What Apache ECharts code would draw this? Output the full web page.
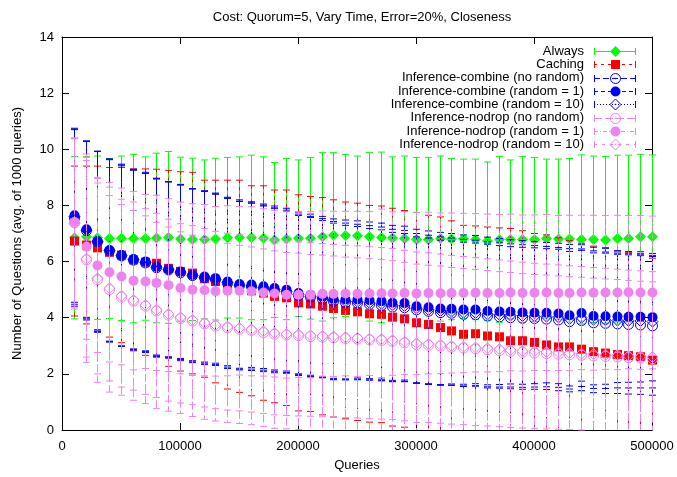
<!DOCTYPE html>
<html><head><meta charset="utf-8">
<script src="https://cdn.jsdelivr.net/npm/echarts@6.0.0/dist/echarts.min.js"></script>
<style>html,body{margin:0;padding:0;background:#fff}#c{width:677px;height:477px}</style>
</head><body><div id="c"></div>
<script>
const queries = [10000,20000,30000,40000,50000,60000,70000,80000,90000,100000,110000,120000,130000,140000,150000,160000,170000,180000,190000,200000,210000,220000,230000,240000,250000,260000,270000,280000,290000,300000,310000,320000,330000,340000,350000,360000,370000,380000,390000,400000,410000,420000,430000,440000,450000,460000,470000,480000,490000,500000];
const xTicks = [0,100000,200000,300000,400000,500000];
const yTicks = [0,2,4,6,8,10,12,14];

const seriesNames = ['Always','Caching','Inference-combine (no random)','Inference-combine (random = 1)','Inference-combine (random = 10)','Inference-nodrop (no random)','Inference-nodrop (random = 1)','Inference-nodrop (random = 10)'];

const alwaysMean = [6.85,6.88,6.85,6.82,6.83,6.82,6.82,6.84,6.86,6.80, 6.79,6.79,6.80,6.85,6.86,6.86,6.83,6.77,6.80,6.83, 6.83,6.88,6.94,6.93,6.92,6.88,6.86,6.84,6.82,6.79, 6.79,6.82,6.80,6.81,6.79,6.73,6.79,6.79,6.79,6.79, 6.82,6.80,6.80,6.79,6.79,6.77,6.82,6.82,6.88,6.88];
const alwaysErr = [2.89,2.86,2.91,2.85,2.93,3.00,2.91,3.02,3.06,2.92, 2.89,2.83,2.88,2.86,2.87,2.93,2.90,2.76,2.87,2.79, 2.88,3.00,2.94,2.89,2.84,3.00,3.04,2.89,2.94,2.92, 2.92,2.94,2.87,2.84,2.86,2.82,2.95,2.83,2.95,2.92, 2.83,2.85,2.87,3.01,2.97,2.97,2.97,2.97,2.94,2.92];

const cachingMean = [6.73,6.59,6.49,6.33,6.23,6.06,5.98,5.94,5.76,5.65, 5.59,5.39,5.29,5.18,5.12,4.96,4.88,4.76,4.71,4.53, 4.49,4.41,4.33,4.26,4.21,4.14,4.12,4.02,3.96,3.82, 3.76,3.65,3.53,3.41,3.43,3.35,3.32,3.18,3.18,3.12, 3.03,2.96,2.96,2.88,2.79,2.74,2.69,2.65,2.61,2.49];
const cachingErr = [2.67,2.81,2.91,3.02,3.12,3.24,3.32,3.35,3.49,3.55, 3.59,3.51,3.61,3.72,3.78,3.74,3.82,3.79,3.84,3.85, 3.83,3.87,3.87,3.86,3.87,3.86,3.86,3.88,3.86,3.93, 3.89,3.94,3.92,3.88,3.84,3.88,3.88,4.00,3.92,3.88, 3.92,3.89,3.79,3.77,3.76,3.76,3.66,3.67,3.68,3.63];

const combNoRandMean = [7.55,7.10,6.70,6.38,6.20,6.05,5.95,5.78,5.70,5.60, 5.50,5.42,5.35,5.22,5.14,5.10,5.03,4.97,4.90,4.79, 4.73,4.66,4.58,4.54,4.52,4.48,4.44,4.38,4.36,4.28, 4.23,4.18,4.16,4.12,4.11,4.06,4.03,4.00,3.98,3.97, 3.95,3.92,3.86,3.90,3.82,3.80,3.78,3.76,3.74,3.71];
const combNoRandErr = [3.15,3.18,3.22,3.25,3.21,3.20,3.19,3.16,3.14,3.13, 3.10,3.09,3.05,3.03,3.00,2.98,2.95,2.93,2.88,2.85, 2.84,2.80,2.79,2.75,2.73,2.70,2.69,2.66,2.64,2.60, 2.61,2.58,2.57,2.57,2.55,2.56,2.54,2.53,2.53,2.52, 2.51,2.52,2.50,2.50,2.49,2.50,2.48,2.48,2.47,2.47];

const combR1Mean = [7.65,7.15,6.73,6.41,6.23,6.09,6.00,5.82,5.73,5.65, 5.53,5.47,5.41,5.29,5.20,5.18,5.12,5.06,5.00,4.88, 4.82,4.76,4.68,4.65,4.65,4.62,4.59,4.53,4.52,4.41, 4.37,4.33,4.32,4.29,4.29,4.24,4.22,4.21,4.19,4.18, 4.18,4.15,4.09,4.17,4.06,4.05,4.04,4.03,4.03,4.02];
const combR1Err = [3.10,3.15,3.20,3.25,3.24,3.20,3.18,3.15,3.12,3.10, 3.06,3.05,3.03,3.00,3.00,2.95,2.93,2.92,2.90,2.88, 2.87,2.85,2.84,2.83,2.80,2.79,2.78,2.76,2.74,2.74, 2.72,2.71,2.68,2.66,2.64,2.63,2.60,2.57,2.56,2.53, 2.50,2.50,2.52,2.43,2.45,2.42,2.35,2.33,2.32,2.27];

const combR10Mean = [7.60,7.12,6.72,6.40,6.21,6.07,5.97,5.80,5.71,5.62, 5.51,5.44,5.37,5.25,5.16,5.13,5.07,5.00,4.94,4.83, 4.76,4.70,4.62,4.58,4.57,4.53,4.50,4.44,4.42,4.33, 4.28,4.24,4.22,4.18,4.17,4.12,4.10,4.08,4.06,4.05, 4.04,4.01,3.96,4.00,3.93,3.91,3.90,3.89,3.88,3.86];
const combR10Err = [3.12,3.16,3.21,3.24,3.23,3.21,3.17,3.16,3.13,3.11, 3.08,3.06,3.04,3.01,2.99,2.96,2.94,2.91,2.89,2.86, 2.85,2.83,2.81,2.79,2.76,2.75,2.73,2.71,2.69,2.67, 2.66,2.64,2.62,2.61,2.59,2.58,2.57,2.55,2.54,2.52, 2.50,2.49,2.50,2.45,2.45,2.43,2.40,2.39,2.38,2.36];

const nodropNoRandMean = [7.38,6.06,5.35,5.00,4.73,4.59,4.41,4.24,4.09,3.97, 3.88,3.78,3.70,3.64,3.59,3.55,3.47,3.41,3.38,3.36, 3.33,3.31,3.28,3.26,3.24,3.21,3.19,3.16,3.10,3.04, 3.02,2.99,2.95,2.92,2.89,2.86,2.83,2.80,2.77,2.74, 2.72,2.70,2.68,2.66,2.64,2.62,2.60,2.58,2.56,2.54];
const nodropNoRandErr = [3.00,3.65,3.65,3.65,3.49,3.53,3.47,3.48,3.42,3.38, 3.40,3.40,3.38,3.37,3.36,3.36,3.35,3.35,3.34,3.34, 3.34,3.33,3.33,3.32,3.32,3.32,3.31,3.31,3.30,3.30, 3.29,3.28,3.27,3.26,3.25,3.24,3.23,3.22,3.21,3.20, 3.19,3.18,3.17,3.16,3.15,3.14,3.13,3.12,3.11,3.10];

const nodropR1Mean = [7.41,6.53,5.86,5.62,5.47,5.32,5.29,5.24,5.16,5.06, 5.00,4.98,4.94,4.96,4.96,4.94,4.90,4.86,4.82,4.82, 4.82,4.85,4.85,4.86,4.85,4.86,4.87,4.86,4.88,4.86, 4.88,4.87,4.88,4.88,4.89,4.88,4.88,4.90,4.88,4.89, 4.90,4.88,4.88,4.90,4.89,4.90,4.90,4.91,4.90,4.90];
const nodropR1Err = [2.97,3.30,3.10,3.20,3.15,3.18,3.10,3.12,3.08,3.06, 3.06,3.05,3.02,3.03,3.00,3.01,2.98,2.97,2.97,2.95, 2.96,2.95,2.94,2.93,2.94,2.92,3.00,2.91,2.90,2.89, 2.88,2.86,2.85,2.84,2.82,2.81,2.80,2.79,2.78,2.77, 2.78,2.76,2.77,2.75,2.76,2.74,2.75,2.73,2.74,2.72];

const nodropR10Mean = [7.36,6.10,5.40,5.05,4.78,4.62,4.45,4.28,4.13,4.01, 3.92,3.82,3.74,3.68,3.63,3.58,3.52,3.46,3.42,3.40, 3.37,3.35,3.33,3.30,3.28,3.25,3.23,3.20,3.15,3.09, 3.07,3.04,3.00,2.97,2.94,2.91,2.88,2.85,2.82,2.80, 2.78,2.76,2.74,2.72,2.70,2.68,2.66,2.64,2.62,2.60];
const nodropR10Err = [3.05,3.50,3.40,3.30,3.25,3.20,3.18,3.12,3.10,3.05, 3.02,3.00,2.98,2.97,2.95,2.94,2.93,2.92,2.90,2.90, 2.88,2.88,2.87,2.86,2.85,2.85,2.84,2.83,2.82,2.82, 2.80,2.80,2.79,2.78,2.78,2.77,2.76,2.76,2.75,2.74, 2.74,2.73,2.72,2.72,2.71,2.70,2.70,2.69,2.68,2.68];

const means = [alwaysMean,cachingMean,combNoRandMean,combR1Mean,combR10Mean,nodropNoRandMean,nodropR1Mean,nodropR10Mean];
const errs = [alwaysErr,cachingErr,combNoRandErr,combR1Err,combR10Err,nodropNoRandErr,nodropR1Err,nodropR10Err];

const GREEN='#00ff00', RED='#ff0000', BLUE='#0000ff', VIOLET='#ee82ee';
const styles = [
  {color:GREEN, dash:null, marker:'diamondF'},
  {color:RED, dash:[3,4], marker:'square'},
  {color:BLUE, dash:[6,3], marker:'circleO'},
  {color:BLUE, dash:[4,3], marker:'circleF'},
  {color:BLUE, dash:[1,2], marker:'diamondO'},
  {color:VIOLET, dash:[8,3], marker:'circleO'},
  {color:VIOLET, dash:[4,2,1,2], marker:'circleF'},
  {color:VIOLET, dash:[3,5], marker:'diamondO'}
];

function markerShape(kind, x, y, color) {
  const s = 5.5;
  switch (kind) {
    case 'diamondF': return [{type:'polygon', shape:{points:[[x,y-s],[x+s,y],[x,y+s],[x-s,y]]}, style:{fill:color}}];
    case 'square': return [{type:'rect', shape:{x:x-4.5,y:y-4.5,width:9,height:9}, style:{fill:color}}];
    case 'circleF': return [{type:'circle', shape:{cx:x,cy:y,r:5}, style:{fill:color}}];
    case 'circleO': return [{type:'circle', shape:{cx:x,cy:y,r:5}, style:{fill:'none',stroke:color,lineWidth:1}},
                            {type:'circle', shape:{cx:x,cy:y,r:0.8}, style:{fill:color}}];
    case 'diamondO': return [{type:'polygon', shape:{points:[[x,y-s],[x+s,y],[x,y+s],[x-s,y]]}, style:{fill:'none',stroke:color,lineWidth:1}},
                             {type:'circle', shape:{cx:x,cy:y,r:0.8}, style:{fill:color}}];
  }
}

function makeRender(st) {
  return function(params, api) {
    const x = api.value(0), m = api.value(1), e = api.value(2);
    const hi = m + e, lo = m - e;
    const pm = api.coord([x, m]);
    const ph = api.coord([x, hi]);
    const pl = api.coord([x, Math.max(0, lo)]);
    const ls = {stroke: st.color, lineWidth: 1, lineDash: st.dash};
    const cx = Math.round(pm[0]) + 0.5;
    const ch = [
      {type:'line', shape:{x1:cx, y1:ph[1], x2:cx, y2:pl[1]}, style: ls},
      {type:'line', shape:{x1:cx-3.5, y1:ph[1], x2:cx+3.5, y2:ph[1]}, style:{stroke:st.color,lineWidth:1}}
    ];
    if (lo >= 0) ch.push({type:'line', shape:{x1:cx-3.5, y1:pl[1], x2:cx+3.5, y2:pl[1]}, style:{stroke:st.color,lineWidth:1}});
    markerShape(st.marker, cx, pm[1], st.color).forEach(c => ch.push(c));
    return {type:'group', children: ch};
  };
}

const series = seriesNames.map((name, i) => ({
  name: name,
  type: 'custom',
  renderItem: makeRender(styles[i]),
  data: queries.map((q, j) => [q, means[i][j], errs[i][j]]),
  encode: {x: 0, y: 1},
  silent: true,
  animation: false
}));

// legend built as graphics (gnuplot-style key)
const FONT = "'Liberation Sans', Arial, sans-serif";
const legendGraphics = [];
seriesNames.forEach((name, i) => {
  const y = 51 + 13.33 * i;
  const st = styles[i];
  legendGraphics.push({type:'text', x:584, y:y, style:{text:name, fill:'#000', font:'13px ' + FONT, textAlign:'right', textVerticalAlign:'middle'}});
  const ly = Math.round(y) + 0.5;
  legendGraphics.push({type:'line', shape:{x1:594, y1:ly, x2:636, y2:ly}, style:{stroke:st.color, lineWidth:1, lineDash:st.dash}});
  legendGraphics.push({type:'line', shape:{x1:594.5, y1:ly-3.5, x2:594.5, y2:ly+3.5}, style:{stroke:st.color, lineWidth:1}});
  legendGraphics.push({type:'line', shape:{x1:635.5, y1:ly-3.5, x2:635.5, y2:ly+3.5}, style:{stroke:st.color, lineWidth:1}});
  markerShape(st.marker, 615.5, ly, st.color).forEach(c => legendGraphics.push(Object.assign({}, c, {z: 10})));
});

const axisCommon = {
  type: 'value',
  axisLine: {show: true, onZero: false, lineStyle: {color: '#000', width: 1}},
  axisTick: {show: true, inside: true, length: 7, lineStyle: {color: '#000'}},
  splitLine: {show: false},
  axisLabel: {color: '#000', fontSize: 13, fontFamily: FONT, formatter: v => String(v)}
};

const chart = echarts.init(document.getElementById('c'), null, {renderer: 'canvas'});
chart.setOption({
  animation: false,
  backgroundColor: '#fff',
  title: {text: 'Cost: Quorum=5, Vary Time, Error=20%, Closeness', left: 357, top: 6, textAlign: 'center',
          textStyle: {fontSize: 13, fontWeight: 'normal', color: '#000', fontFamily: FONT}},
  grid: {left: 62, right: 25, top: 37, bottom: 44, containLabel: false},
  xAxis: [
    Object.assign({}, axisCommon, {min: xTicks[0], max: xTicks[xTicks.length-1], interval: xTicks[1]-xTicks[0], position: 'bottom',
      name: 'Queries', nameLocation: 'middle', nameGap: 29, nameTextStyle: {color:'#000', fontSize: 13, fontFamily: FONT},
      axisLabel: Object.assign({}, axisCommon.axisLabel, {margin: 10})}),
    Object.assign({}, axisCommon, {min: xTicks[0], max: xTicks[xTicks.length-1], interval: xTicks[1]-xTicks[0], position: 'top',
      axisLabel: {show: false}})
  ],
  yAxis: [
    Object.assign({}, axisCommon, {min: yTicks[0], max: yTicks[yTicks.length-1], interval: yTicks[1]-yTicks[0], position: 'left',
      name: 'Number of Questions (avg. of 1000 queries)', nameLocation: 'middle', nameGap: 38, nameRotate: 90,
      nameTextStyle: {color:'#000', fontSize: 13, fontFamily: FONT},
      axisLabel: Object.assign({}, axisCommon.axisLabel, {margin: 8})}),
    Object.assign({}, axisCommon, {min: yTicks[0], max: yTicks[yTicks.length-1], interval: yTicks[1]-yTicks[0], position: 'right',
      axisLabel: {show: false}})
  ],
  graphic: legendGraphics,
  series: series
});
</script>
</body></html>
